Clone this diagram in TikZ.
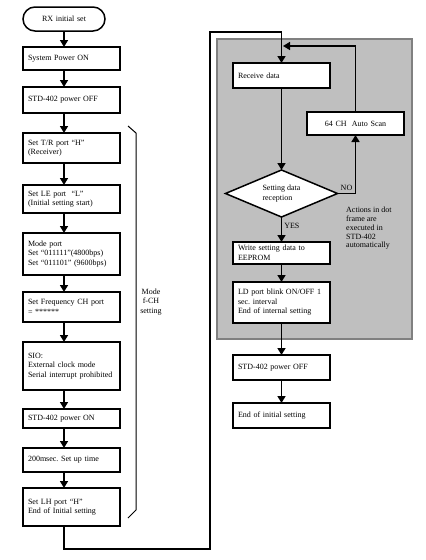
\documentclass[tikz,border=0pt]{standalone}
\usepackage{fontspec}
\setmainfont{Liberation Serif}
\usetikzlibrary{arrows.meta}
\usetikzlibrary{positioning}
\usetikzlibrary{shapes.geometric}

\begin{document}
\begin{tikzpicture}[
            x=1pt,y=-1pt,
            every node/.style={font=\fontsize{8}{9.5}\selectfont},
            box/.style={rectangle,draw,line width=1.5pt,fill=white,align=left,text width=87pt,inner xsep=5pt,inner ysep=2pt,outer sep=0pt},
            label node/.style={rectangle,draw=none,inner sep=2pt},
            link/.style={line width=1.5pt}
        ]
        \tikzset{>={Triangle[length=7pt,width=8pt]}}
        \useasboundingbox (0,0) rectangle (426,560);
        \draw[line width=1.5pt,draw=gray,fill=gray!50] (217,39) rectangle (412,339);

        \node [box,rounded corners=12pt,align=center,text width=72pt,minimum height=24pt] (start) at (64,19) {RX initial set};
        \node [box,below=16pt of start,xshift=7.5pt,minimum height=23pt] (node 1) {System Power ON};
        \node [box,below=17pt of node 1,minimum height=26pt] (node 2) {STD-402 power OFF};
        \node [box,below=20pt of node 2,minimum height=30pt] (node 3) {Set T/R port ``H''\\(Receiver)};
        \node [box,below=22pt of node 3,minimum height=28pt] (node 4) {Set LE port\ \ ``L''\\(Initial setting start)};
        \node [box,below=20pt of node 4,minimum height=42pt] (node 5) {Mode port\\Set ``011111''(4800bps)\\Set ``011101'' (9600bps)};
        \node [box,below=17pt of node 5,minimum height=30pt] (node 6) {Set Frequency CH port\\= ******};
        \node [box,below=20pt of node 6,minimum height=48pt] (node 7) {SIO:\\External clock mode\\Serial interrupt prohibited};
        \node [box,below=19pt of node 7,minimum height=19pt] (node 8) {STD-402 power ON};
        \node [box,below=20pt of node 8,minimum height=24pt] (node 9) {200msec.\ Set up time};
        \node [box,below=16pt of node 9,minimum height=38pt] (node 10) {Set LH port ``H''\\End of Initial setting};

        \node [box,minimum height=25pt] (node 11) at (281.5,75.5) {Receive data};
        \node [diamond,draw,line width=1.5pt,fill=white,aspect=2.4,inner sep=0pt,outer sep=0pt,minimum width=112pt,minimum height=47pt,align=left,below=82pt of node 11] (check) {Setting data\\reception};
        \node [box,below=25pt of check,minimum height=22pt] (node 12) {Write setting data to\\EEPROM};
        \node [box,below=18pt of node 12,minimum height=41pt] (node 13) {LD port blink ON/OFF 1\\sec.\ interval\\End of internal setting};
        \node [box,below=32pt of node 13,minimum height=25pt] (node 14) {STD-402 power OFF};
        \node [box,below=23pt of node 14,minimum height=25pt] (node 15) {End of initial setting};
        \node [box,align=center,minimum height=23pt] (scan) at (355.5,123.5) {64 CH\ \ Auto Scan};
        \node [label node,anchor=north west,align=left,font=\fontsize{8}{8.8}\selectfont] (note) at (344,205) {Actions in dot\\frame are\\executed in\\STD-402\\automatically};

        \node [label node,align=center] (mode) at (151,302) {Mode\\f-CH\\setting};
        \draw[line width=1pt] (128,126) -- (136,133) -- (136,510) -- (128,518);

        \coordinate (loop low) at (210,549);
        \coordinate (loop top) at (210,32);
        \coordinate (merge) at (283,46);

        \draw[->,link] (start) -- (node 1.north -| start);
        \draw[->,link] (node 1.south -| start) -- (node 2.north -| start);
        \draw[->,link] (node 2.south -| start) -- (node 3.north -| start);
        \draw[->,link] (node 3.south -| start) -- (node 4.north -| start);
        \draw[->,link] (node 4.south -| start) -- (node 5.north -| start);
        \draw[->,link] (node 5.south -| start) -- (node 6.north -| start);
        \draw[->,link] (node 6.south -| start) -- (node 7.north -| start);
        \draw[->,link] (node 7.south -| start) -- (node 8.north -| start);
        \draw[->,link] (node 8.south -| start) -- (node 9.north -| start);
        \draw[->,link] (node 9.south -| start) -- (node 10.north -| start);
        \draw[->,link] (node 10.south -| start) |- (loop low) -- (loop top) -| (node 11);
        \draw[->,link] (node 11) -- (check);
        \draw[->,link] (check) -- node[label node,right,pos=0.35] {YES} (node 12);
        \draw[->,link] (check.east) -| node[label node,near start,above] {NO} (scan);
        \draw[->,link] (scan) |- (merge);
        \draw[->,link] (node 12) -- (node 13);
        \draw[->,link] (node 13) -- (node 14);
        \draw[->,link] (node 14) -- (node 15);
    \end{tikzpicture}
\end{document}
